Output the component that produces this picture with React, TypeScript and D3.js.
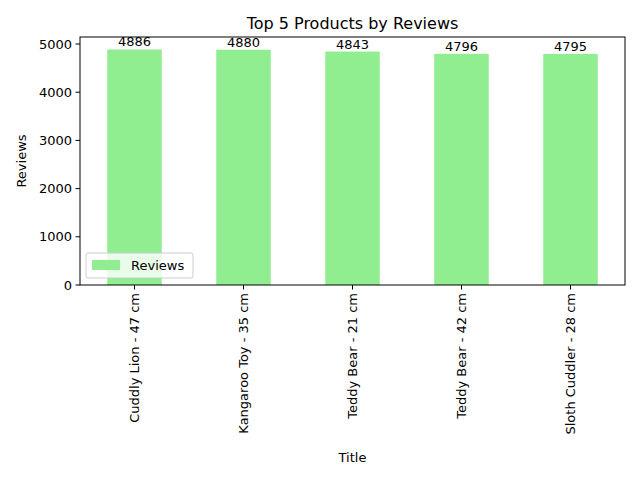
import { useEffect } from "react";
import * as d3 from "d3";

const titles = [
  "Cuddly Lion - 47 cm",
  "Kangaroo Toy - 35 cm",
  "Teddy Bear - 21 cm",
  "Teddy Bear - 42 cm",
  "Sloth Cuddler - 28 cm",
];
const reviews = [4886, 4880, 4843, 4796, 4795];
const yTicks = [0, 1000, 2000, 3000, 4000, 5000];

const W = 640;
const H = 480;
const left = 80;
const right = 625;
const top = 37;
const bottom = 285;
const font = "DejaVu Sans, sans-serif";
const fs = 13;

export default function App() {
  useEffect(() => {
    document.body.style.margin = "0";
  }, []);

  const x = d3.scaleBand<string>().domain(titles).range([left, right]).paddingInner(0.5).paddingOuter(0.25);
  const y = d3.scaleLinear().domain([0, 5145]).range([bottom, top]);

  return (
    <svg width={W} height={H} style={{ display: "block", fontFamily: font }}>
      <rect width={W} height={H} fill="white" />
      {titles.map((t, i) => (
        <g key={t}>
          <rect x={x(t)} y={y(reviews[i])} width={x.bandwidth()} height={bottom - y(reviews[i])} fill="#90ee90" />
          <text x={x(t)! + x.bandwidth() / 2} y={y(reviews[i]) - 3} textAnchor="middle" fontSize={fs}>
            {reviews[i]}
          </text>
        </g>
      ))}
      <rect x={left} y={top} width={right - left} height={bottom - top} fill="none" stroke="black" strokeWidth={1} />
      {yTicks.map((v) => (
        <g key={v}>
          <line x1={left - 4.5} x2={left} y1={y(v)} y2={y(v)} stroke="black" strokeWidth={1} />
          <text x={left - 8} y={y(v)} dy="0.35em" textAnchor="end" fontSize={fs}>{v}</text>
        </g>
      ))}
      {titles.map((t) => {
        const cx = x(t)! + x.bandwidth() / 2;
        return (
          <g key={t}>
            <line x1={cx} x2={cx} y1={bottom} y2={bottom + 4.5} stroke="black" strokeWidth={1} />
            <text transform={`translate(${cx},${bottom + 8}) rotate(-90)`} dy="0.35em" textAnchor="end" fontSize={fs}>
              {t}
            </text>
          </g>
        );
      })}
      <text x={(left + right) / 2} y={29} textAnchor="middle" fontSize={16}>Top 5 Products by Reviews</text>
      <text x={(left + right) / 2} y={462} textAnchor="middle" fontSize={fs}>Title</text>
      <text transform={`translate(26,${(top + bottom) / 2}) rotate(-90)`} textAnchor="middle" fontSize={fs}>Reviews</text>
      <g>
        <rect x={86} y={253} width={107} height={25} rx={2} fill="white" fillOpacity={0.8} stroke="#cccccc" strokeWidth={1} />
        <rect x={92} y={260} width={28} height={10} fill="#90ee90" />
        <text x={131} y={265} dy="0.35em" fontSize={fs}>Reviews</text>
      </g>
    </svg>
  );
}
